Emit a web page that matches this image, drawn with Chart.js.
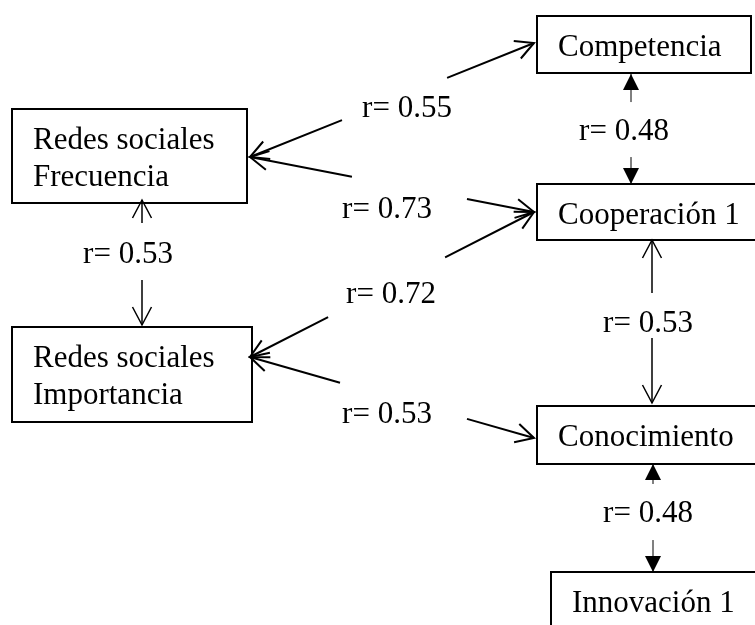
<!DOCTYPE html>
<html>
<head>
<meta charset="utf-8">
<script src="https://cdn.jsdelivr.net/npm/chart.js@4.4.0/dist/chart.umd.min.js"></script>
<style>
  html, body { margin: 0; padding: 0; background: #fff; }
  #wrap { width: 755px; height: 625px; position: relative; }
</style>
</head>
<body>
<div id="wrap"><canvas id="diagrama"></canvas></div>
<script>
// ===== DATA =====
const nodeNames = [
  ['Redes sociales', 'Frecuencia'],
  ['Redes sociales', 'Importancia'],
  ['Competencia'],
  ['Cooperación 1'],
  ['Conocimiento'],
  ['Innovación 1']
];
const edgeFrom = [0, 0, 1, 1, 0, 2, 3, 4];
const edgeTo   = [2, 3, 3, 4, 1, 3, 4, 5];
const edgeR    = [0.55, 0.73, 0.72, 0.53, 0.53, 0.48, 0.53, 0.48];
const edgeHead = ['open', 'open', 'open', 'open', 'open', 'solid', 'open', 'solid'];

// ===== LAYOUT (diagram units, 0..755 x 0..625) =====
const BOXES = [
  { x0: 12,  y0: 109, x1: 247, y1: 203 },
  { x0: 12,  y0: 327, x1: 252, y1: 422 },
  { x0: 537, y0: 16,  x1: 751, y1: 73 },
  { x0: 537, y0: 184, x1: 770, y1: 240 },
  { x0: 537, y0: 406, x1: 770, y1: 464 },
  { x0: 551, y0: 572, x1: 770, y1: 660 }
];
// a = tip at "from" end, b = tip at "to" end, g = gap (fraction along line) for the label
const EDGE_LAYOUT = [
  { a: [250, 157], b: [534, 43],  g: [0.324, 0.694], lab: [407, 117] },
  { a: [250, 157], b: [534, 212], g: [0.359, 0.764], lab: [387, 218] },
  { a: [250, 357], b: [534, 212], g: [0.275, 0.687], lab: [391, 303] },
  { a: [250, 357], b: [534, 438], g: [0.317, 0.764], lab: [387, 423] },
  { a: [142, 200], b: [142, 325], g: [0.184, 0.640], lab: [128, 263] },
  { a: [631, 74],  b: [631, 184], g: [0.255, 0.755], lab: [624, 140] },
  { a: [652, 240], b: [652, 403], g: [0.325, 0.601], lab: [648, 332] },
  { a: [653, 464], b: [653, 572], g: [0.185, 0.704], lab: [648, 522] }
];

const FONT = '31px "Liberation Serif", "Times New Roman", serif';
const INK = '#000';

function px(chart, p) {
  return [chart.scales.x.getPixelForValue(p[0]), chart.scales.y.getPixelForValue(p[1])];
}

function drawHead(ctx, tip, from, style) {
  const ang = Math.atan2(tip[1] - from[1], tip[0] - from[0]);
  ctx.save();
  ctx.translate(tip[0], tip[1]);
  ctx.rotate(ang);
  if (style === 'solid') {
    ctx.beginPath();
    ctx.moveTo(0, 0);
    ctx.lineTo(-16, -8);
    ctx.lineTo(-16, 8);
    ctx.closePath();
    ctx.fill();
  } else {
    ctx.beginPath();
    ctx.moveTo(-18, -9.5);
    ctx.lineTo(0, 0);
    ctx.lineTo(-18, 9.5);
    ctx.stroke();
  }
  ctx.restore();
}

const diagramPlugin = {
  id: 'diagrama',
  afterDatasetsDraw(chart) {
    const ctx = chart.ctx;
    ctx.save();
    ctx.strokeStyle = INK;
    ctx.fillStyle = INK;
    ctx.font = FONT;
    ctx.textBaseline = 'alphabetic';

    // cajas
    BOXES.forEach((b, i) => {
      const p0 = px(chart, [b.x0, b.y0]);
      const p1 = px(chart, [b.x1, b.y1]);
      ctx.fillStyle = '#fff';
      ctx.fillRect(p0[0], p0[1], p1[0] - p0[0], p1[1] - p0[1]);
      ctx.lineWidth = 2;
      ctx.strokeRect(p0[0], p0[1], p1[0] - p0[0], p1[1] - p0[1]);
      ctx.fillStyle = INK;
      ctx.textAlign = 'left';
      nodeNames[i].forEach((line, k) => {
        const t = px(chart, [b.x0 + 21, b.y0 + 40 + 36.5 * k]);
        ctx.fillText(line, t[0], t[1]);
      });
    });

    // flechas
    edgeR.forEach((r, i) => {
      const L = EDGE_LAYOUT[i];
      const a = px(chart, L.a), b = px(chart, L.b);
      const at = t => [a[0] + (b[0] - a[0]) * t, a[1] + (b[1] - a[1]) * t];
      const g0 = at(L.g[0]), g1 = at(L.g[1]);
      const vertical = a[0] === b[0];
      ctx.lineWidth = vertical ? (edgeHead[i] === 'solid' ? 1 : 1.5) : 2;
      ctx.beginPath();
      ctx.moveTo(a[0], a[1]); ctx.lineTo(g0[0], g0[1]);
      ctx.moveTo(g1[0], g1[1]); ctx.lineTo(b[0], b[1]);
      ctx.stroke();
      ctx.lineWidth = vertical ? 1.5 : 2;
      drawHead(ctx, a, b, edgeHead[i]);
      drawHead(ctx, b, a, edgeHead[i]);

      const lp = px(chart, L.lab);
      ctx.textAlign = 'center';
      ctx.fillText('r= ' + r.toFixed(2), lp[0], lp[1]);
    });
    ctx.restore();
  }
};

const centers = BOXES.map(b => ({ x: (b.x0 + b.x1) / 2, y: (b.y0 + b.y1) / 2 }));

new Chart(document.getElementById('diagrama'), {
  type: 'scatter',
  data: { datasets: [{ data: centers, pointRadius: 0, pointHoverRadius: 0 }] },
  options: {
    responsive: true, maintainAspectRatio: false, animation: false,
    layout: { padding: 0 },
    plugins: { legend: { display: false }, tooltip: { enabled: false } },
    scales: {
      x: { type: 'linear', min: 0, max: 755, display: false },
      y: { type: 'linear', min: 0, max: 625, reverse: true, display: false }
    }
  },
  plugins: [diagramPlugin]
});
</script>
</body>
</html>
